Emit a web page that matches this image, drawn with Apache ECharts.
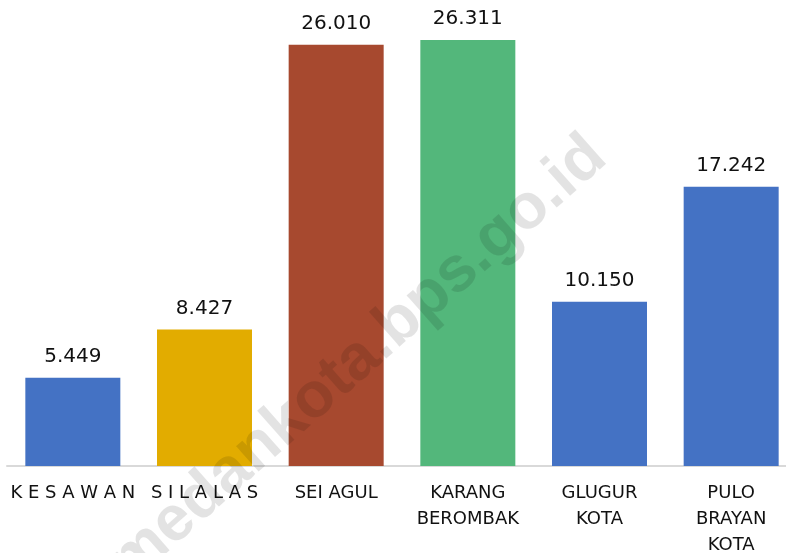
<!DOCTYPE html>
<html>
<head>
<meta charset="utf-8">
<script src="https://cdn.jsdelivr.net/npm/echarts@6/dist/echarts.min.js"></script>
<style>
html,body{margin:0;padding:0;background:#fff;}
#c{width:786px;height:553px;}
</style>
</head>
<body>
<div id="c"></div>
<script>
var categories = ['K E S A W A N', 'S I L A L A S', 'SEI AGUL', 'KARANG\nBEROMBAK', 'GLUGUR\nKOTA', 'PULO\nBRAYAN\nKOTA'];
var values = [5449, 8427, 26010, 26311, 10150, 17242];
var barColors = ['#4472C4', '#E2AC00', '#A7492F', '#53B77B', '#4472C4', '#4472C4'];

function fmt(v) {
  return String(v).replace(/\B(?=(\d{3})+(?!\d))/g, '.');
}

var chart = echarts.init(document.getElementById('c'), null, {renderer: 'canvas'});
chart.setOption({
  backgroundColor: '#ffffff',
  animation: false,
  grid: {left: 7, width: 790, top: 40, height: 426, containLabel: false, outerBoundsMode: 'none'},
  xAxis: {
    type: 'category',
    data: categories,
    axisLine: {show: true, lineStyle: {color: '#d9d9d9', width: 2}},
    axisTick: {show: false},
    axisLabel: {
      interval: 0,
      margin: 14,
      color: '#111111',
      fontFamily: 'DejaVu Sans',
      fontSize: 18,
      lineHeight: 26
    }
  },
  yAxis: {
    type: 'value',
    min: 0,
    max: 26311,
    show: false,
    splitLine: {show: false}
  },
  series: [{
    type: 'bar',
    barWidth: 95,
    data: values.map(function (v, i) {
      return {value: v, itemStyle: {color: barColors[i]}};
    }),
    label: {
      show: true,
      position: 'top',
      distance: 11,
      color: '#111111',
      fontFamily: 'DejaVu Sans',
      fontSize: 20,
      formatter: function (p) { return fmt(p.value); }
    }
  }],
  graphic: [{
    type: 'text',
    z: 100,
    x: 358,
    y: 360,
    rotation: 41.5 * Math.PI / 180,
    style: {
      text: 'medankota.bps.go.id',
      font: 'bold 64px "Liberation Sans", Arial, sans-serif',
      fill: 'rgba(0,0,0,0.11)',
      align: 'center',
      verticalAlign: 'middle'
    }
  }]
});
</script>
</body>
</html>
